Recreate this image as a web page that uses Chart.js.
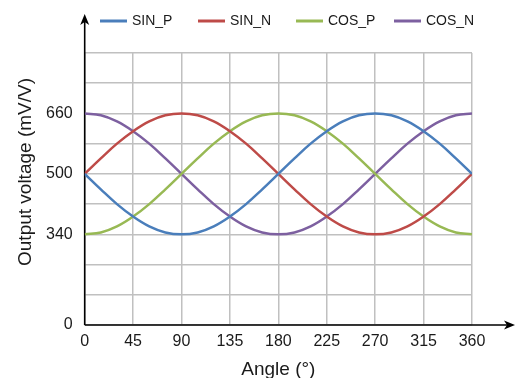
<!DOCTYPE html>
<html>
<head>
<meta charset="utf-8">
<script src="https://cdn.jsdelivr.net/npm/chart.js@4/dist/chart.umd.min.js"></script>
<style>
  html, body { margin: 0; padding: 0; background: #fff; }
</style>
</head>
<body>
<canvas id="chart" width="516" height="378"></canvas>
<script>
// angle (deg) and output voltage (mV/V)
const angles = [0,15,30,45,60,75,90,105,120,135,150,165,180,195,210,225,240,255,270,285,300,315,330,345,360];
const sinP = [500,459,420,387,361,345,340,345,361,387,420,459,500,541,580,613,639,655,660,655,639,613,580,541,500];
const sinN = [500,541,580,613,639,655,660,655,639,613,580,541,500,459,420,387,361,345,340,345,361,387,420,459,500];
const cosP = [340,345,361,387,420,459,500,541,580,613,639,655,660,655,639,613,580,541,500,459,420,387,361,345,340];
const cosN = [660,655,639,613,580,541,500,459,420,387,361,345,340,345,361,387,420,459,500,541,580,613,639,655,660];

const seriesNames = ['SIN_P','SIN_N','COS_P','COS_N'];
const seriesColors = ['#4a7ebb','#be4b48','#98b954','#7d60a0'];

// y axis is broken: the bottom gridline is labelled 0
const yMin = 100, yMax = 820, yStep = 80;
const yTickValues = [100, 340, 500, 660];
const yTickLabels = ['0', '340', '500', '660'];

const FONT = '"Liberation Sans", Arial, sans-serif';
Chart.defaults.font.family = FONT;
Chart.defaults.color = '#1a1a1a';

function pts(vals){ return vals.map((v,i) => ({x: angles[i], y: v})); }

const datasets = [sinP, sinN, cosP, cosN].map((vals, i) => ({
  label: seriesNames[i],
  data: pts(vals),
  borderColor: seriesColors[i],
  backgroundColor: seriesColors[i],
  borderWidth: 2.5,
  pointRadius: 0,
  tension: 0.4,
  fill: false
}));

// arrows on the axes, rotated y title and the line legend
const decor = {
  id: 'decor',
  beforeDatasetsDraw(chart){
    const {ctx, chartArea: a} = chart;
    ctx.save();
    ctx.strokeStyle = '#000';
    ctx.fillStyle = '#000';
    ctx.lineWidth = 1.6;
    const yTip = a.top - 39, xTip = a.right + 43;
    ctx.beginPath();
    ctx.moveTo(a.left, a.bottom); ctx.lineTo(a.left, yTip + 6);
    ctx.moveTo(a.left, a.bottom); ctx.lineTo(xTip - 6, a.bottom);
    ctx.stroke();
    ctx.beginPath();
    ctx.moveTo(a.left, yTip);
    ctx.lineTo(a.left - 4.5, yTip + 11);
    ctx.lineTo(a.left, yTip + 8);
    ctx.lineTo(a.left + 4.5, yTip + 11);
    ctx.closePath(); ctx.fill();
    ctx.beginPath();
    ctx.moveTo(xTip, a.bottom);
    ctx.lineTo(xTip - 11, a.bottom - 4.5);
    ctx.lineTo(xTip - 8, a.bottom);
    ctx.lineTo(xTip - 11, a.bottom + 4.5);
    ctx.closePath(); ctx.fill();
    ctx.restore();
  },
  afterDraw(chart){
    const {ctx} = chart;
    ctx.save();
    ctx.fillStyle = '#1a1a1a';
    ctx.font = '19px ' + FONT;
    ctx.textAlign = 'center';
    ctx.textBaseline = 'middle';
    ctx.translate(26, 172);
    ctx.rotate(-Math.PI / 2);
    ctx.fillText('Output voltage (mV/V)', 0, 0);
    ctx.restore();

    ctx.save();
    ctx.font = '14px ' + FONT;
    ctx.textBaseline = 'middle';
    const y = 21;
    chart.data.datasets.forEach((ds, i) => {
      const x = 100 + i * 98;
      ctx.strokeStyle = ds.borderColor;
      ctx.lineWidth = 3;
      ctx.beginPath(); ctx.moveTo(x, y); ctx.lineTo(x + 27, y); ctx.stroke();
      ctx.fillStyle = '#1a1a1a';
      ctx.fillText(ds.label, x + 32, y);
    });
    ctx.restore();
  }
};

new Chart(document.getElementById('chart'), {
  type: 'line',
  data: { datasets },
  options: {
    responsive: false,
    animation: false,
    devicePixelRatio: 1,
    layout: { padding: { top: 53, right: 44, bottom: -3, left: 34 } },
    plugins: { legend: { display: false }, tooltip: { enabled: false } },
    scales: {
      x: {
        type: 'linear',
        min: 0, max: 360,
        border: { display: false },
        grid: { color: '#c0c0c0', lineWidth: 1.5, drawTicks: false },
        ticks: { stepSize: 45, padding: 7, font: { size: 16 }, maxRotation: 0 },
        title: { display: true, text: 'Angle (°)', font: { size: 19 }, padding: { top: 0, bottom: 0 } }
      },
      y: {
        min: yMin, max: yMax,
        border: { display: false },
        grid: { color: '#c0c0c0', lineWidth: 1.5, drawTicks: false },
        ticks: {
          stepSize: yStep,
          padding: 12,
          font: { size: 16 },
          callback: v => {
            const k = yTickValues.indexOf(v);
            return k >= 0 ? yTickLabels[k] : '';
          }
        }
      }
    }
  },
  plugins: [decor]
});
</script>
</body>
</html>
